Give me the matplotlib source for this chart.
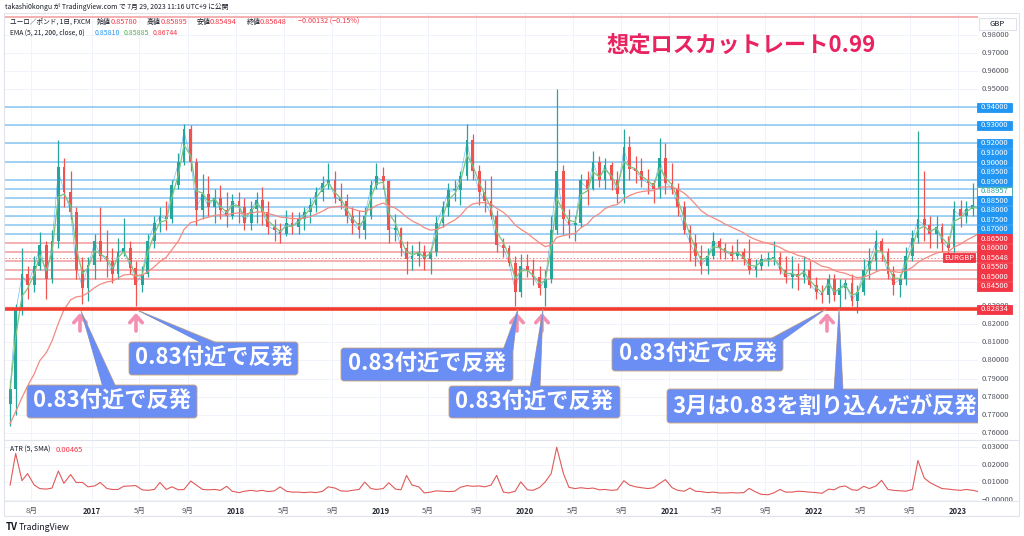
import numpy as np
import pandas as pd
import matplotlib
matplotlib.use('Agg')
import matplotlib.pyplot as plt
import matplotlib.dates as mdates
from matplotlib.patches import FancyBboxPatch, Polygon, Rectangle

plt.rcParams['font.family'] = ['Noto Sans CJK JP', 'DejaVu Sans']
plt.rcParams['axes.unicode_minus'] = False

# --- データ: ユーロ／ポンド (半月ごとの高値・安値・終値, チャートから読み取り) ---
first_open = 0.776
ema200_start = 0.763

highs = [
    0.789, 0.831, 0.862, 0.852, 0.858, 0.871, 0.866, 0.872, 0.922, 0.912, 0.905, 0.885, 0.857, 0.857,  # 2016
    0.870, 0.885, 0.872, 0.862, 0.868, 0.879, 0.866, 0.855, 0.852, 0.870, 0.880, 0.885,
    0.888, 0.900, 0.915, 0.931, 0.930, 0.912, 0.903, 0.902, 0.895, 0.897, 0.893, 0.892,  # 2017
    0.893, 0.890, 0.888, 0.893, 0.896, 0.888, 0.878, 0.876, 0.883, 0.882, 0.882, 0.885,
    0.890, 0.896, 0.902, 0.909, 0.905, 0.898, 0.892, 0.885, 0.883, 0.885, 0.900, 0.909,  # 2018
    0.907, 0.900, 0.881, 0.874, 0.866, 0.864, 0.866, 0.864, 0.862, 0.880, 0.888, 0.898,
    0.900, 0.905, 0.931, 0.925, 0.908, 0.900, 0.902, 0.883, 0.868, 0.864, 0.858, 0.859,  # 2019
    0.859, 0.856, 0.852, 0.850, 0.880, 0.950, 0.908, 0.884, 0.880, 0.903, 0.905, 0.916,
    0.913, 0.912, 0.910, 0.905, 0.928, 0.924, 0.913, 0.912, 0.906, 0.900, 0.923, 0.920,  # 2020
    0.909, 0.898, 0.888, 0.875, 0.870, 0.864, 0.862, 0.871, 0.868, 0.865, 0.864, 0.867,
    0.862, 0.867, 0.856, 0.859, 0.860, 0.866, 0.860, 0.858, 0.858, 0.854, 0.858, 0.855,  # 2021
    0.846, 0.842, 0.848, 0.848, 0.845, 0.845, 0.848, 0.842, 0.856, 0.862, 0.872, 0.868,
    0.862, 0.852, 0.848, 0.863, 0.872, 0.927, 0.905, 0.880, 0.880, 0.876, 0.869, 0.888,  # 2022
    0.889, 0.888, 0.898, 0.890,  # 2023
]
lows = [
    0.764, 0.770, 0.825, 0.834, 0.838, 0.850, 0.834, 0.843, 0.862, 0.885, 0.878, 0.845, 0.831, 0.833,
    0.845, 0.855, 0.846, 0.843, 0.845, 0.858, 0.848, 0.830, 0.838, 0.846, 0.862, 0.871,
    0.872, 0.876, 0.895, 0.908, 0.905, 0.875, 0.878, 0.880, 0.876, 0.878, 0.874, 0.878,
    0.876, 0.872, 0.872, 0.876, 0.875, 0.870, 0.866, 0.865, 0.869, 0.870, 0.870, 0.872,
    0.876, 0.882, 0.888, 0.895, 0.887, 0.884, 0.876, 0.870, 0.868, 0.867, 0.878, 0.895,
    0.895, 0.865, 0.866, 0.858, 0.848, 0.850, 0.852, 0.850, 0.848, 0.858, 0.874, 0.880,
    0.888, 0.886, 0.900, 0.900, 0.886, 0.882, 0.878, 0.860, 0.857, 0.852, 0.830, 0.835,
    0.846, 0.842, 0.836, 0.830, 0.843, 0.870, 0.870, 0.868, 0.866, 0.874, 0.886, 0.894,
    0.896, 0.895, 0.894, 0.887, 0.887, 0.900, 0.898, 0.896, 0.892, 0.887, 0.890, 0.892,
    0.892, 0.880, 0.870, 0.855, 0.852, 0.848, 0.848, 0.856, 0.856, 0.856, 0.855, 0.856,
    0.853, 0.848, 0.846, 0.850, 0.852, 0.853, 0.848, 0.843, 0.840, 0.839, 0.843, 0.840,
    0.834, 0.832, 0.832, 0.833, 0.829, 0.834, 0.830, 0.826, 0.836, 0.845, 0.850, 0.855,
    0.845, 0.836, 0.835, 0.842, 0.855, 0.865, 0.866, 0.862, 0.862, 0.860, 0.858, 0.860,
    0.874, 0.876, 0.880, 0.878,
]
closes = [
    0.784, 0.829, 0.848, 0.842, 0.852, 0.864, 0.845, 0.866, 0.907, 0.893, 0.882, 0.850, 0.840, 0.853,
    0.866, 0.858, 0.855, 0.848, 0.860, 0.862, 0.851, 0.842, 0.848, 0.866, 0.876, 0.880,
    0.878, 0.897, 0.910, 0.928, 0.910, 0.883, 0.892, 0.885, 0.890, 0.883, 0.880, 0.888,
    0.885, 0.876, 0.884, 0.889, 0.882, 0.874, 0.872, 0.870, 0.876, 0.874, 0.878, 0.882,
    0.886, 0.893, 0.898, 0.900, 0.890, 0.888, 0.880, 0.876, 0.872, 0.880, 0.897, 0.902,
    0.899, 0.872, 0.873, 0.862, 0.856, 0.858, 0.860, 0.856, 0.860, 0.876, 0.885, 0.894,
    0.894, 0.902, 0.922, 0.905, 0.893, 0.888, 0.880, 0.864, 0.862, 0.854, 0.838, 0.852,
    0.850, 0.846, 0.840, 0.845, 0.872, 0.905, 0.878, 0.875, 0.876, 0.900, 0.895, 0.910,
    0.900, 0.908, 0.900, 0.892, 0.918, 0.906, 0.905, 0.900, 0.898, 0.895, 0.912, 0.898,
    0.895, 0.885, 0.872, 0.865, 0.858, 0.852, 0.858, 0.866, 0.862, 0.860, 0.858, 0.860,
    0.856, 0.850, 0.852, 0.856, 0.856, 0.857, 0.850, 0.846, 0.848, 0.846, 0.850, 0.842,
    0.838, 0.836, 0.845, 0.836, 0.840, 0.843, 0.833, 0.838, 0.850, 0.855, 0.866, 0.860,
    0.848, 0.842, 0.845, 0.858, 0.868, 0.878, 0.875, 0.870, 0.874, 0.865, 0.862, 0.884,
    0.880, 0.884, 0.886, 0.884,
]
atr_values = [
    0.0085, 0.0265, 0.0110, 0.0150, 0.0085, 0.0065, 0.0062, 0.0068, 0.0165, 0.0095, 0.0145, 0.0100, 0.0100, 0.0075,
    0.0080, 0.0100, 0.0065, 0.0060, 0.0060, 0.0078, 0.0080, 0.0082, 0.0058, 0.0055, 0.0060, 0.0100,
    0.0060, 0.0075, 0.0058, 0.0060, 0.0108, 0.0085, 0.0060, 0.0058, 0.0060, 0.0055, 0.0078, 0.0050,
    0.0042, 0.0050, 0.0055, 0.0050, 0.0055, 0.0048, 0.0052, 0.0075, 0.0050, 0.0045, 0.0045, 0.0042,
    0.0045, 0.0042, 0.0050, 0.0075, 0.0068, 0.0052, 0.0050, 0.0055, 0.0060, 0.0102, 0.0065, 0.0060,
    0.0065, 0.0098, 0.0062, 0.0058, 0.0140, 0.0085, 0.0075, 0.0040, 0.0045, 0.0052, 0.0050, 0.0048,
    0.0050, 0.0072, 0.0082, 0.0078, 0.0080, 0.0075, 0.0085, 0.0140, 0.0045, 0.0040, 0.0050, 0.0103,
    0.0058, 0.0055, 0.0072, 0.0103, 0.0150, 0.0300, 0.0150, 0.0072, 0.0065, 0.0070, 0.0065, 0.0068,
    0.0058, 0.0060, 0.0055, 0.0058, 0.0110, 0.0085, 0.0075, 0.0070, 0.0065, 0.0070, 0.0095, 0.0116,
    0.0070, 0.0055, 0.0050, 0.0068, 0.0050, 0.0048, 0.0042, 0.0045, 0.0040, 0.0040, 0.0042, 0.0040,
    0.0042, 0.0066, 0.0045, 0.0032, 0.0030, 0.0040, 0.0060, 0.0045, 0.0045, 0.0050, 0.0048, 0.0045,
    0.0042, 0.0038, 0.0062, 0.0058, 0.0075, 0.0080, 0.0058, 0.0055, 0.0078, 0.0065, 0.0080, 0.0112,
    0.0060, 0.0055, 0.0052, 0.0050, 0.0060, 0.0225, 0.0125, 0.0100, 0.0080, 0.0065, 0.0062, 0.0058,
    0.0055, 0.0060, 0.0055, 0.0048,
]

blue_levels = [0.94, 0.93, 0.92, 0.91, 0.90, 0.895, 0.89, 0.885, 0.88, 0.875, 0.87]
red_levels = [0.865, 0.86, 0.855, 0.85, 0.845]
support_level = 0.82834
stop_level = 0.99
last_close = 0.85648
mark_level = 0.88957
price_ticks = [0.98, 0.97, 0.96, 0.95, 0.83, 0.82, 0.81, 0.80, 0.79, 0.78, 0.77, 0.76]
atr_ticks = [0.03, 0.02, 0.01, 0.0]

tick_dates = ['2016-08-01',
              '2017-01-01', '2017-05-01', '2017-09-01',
              '2018-01-01', '2018-05-01', '2018-09-01',
              '2019-01-01', '2019-05-01', '2019-09-01',
              '2020-01-01', '2020-05-01', '2020-09-01',
              '2021-01-01', '2021-05-01', '2021-09-01',
              '2022-01-01', '2022-05-01', '2022-09-01',
              '2023-01-01']
tick_labels = ['8月', '2017', '5月', '9月', '2018', '5月', '9月', '2019', '5月', '9月',
               '2020', '5月', '9月', '2021', '5月', '9月', '2022', '5月', '9月', '2023']

# --- 色 ---
UP, DOWN = '#26a69a', '#ef5350'
BLUE_LINE, RED_LINE = '#86c5f2', '#f29b9b'
BLUE_TAG, RED_TAG = '#2196f3', '#f23645'
CALL = '#6b8ef5'
GREY = '#50535e'
INK = '#131722'
BORDER = '#e0e3eb'

W, H = 1024, 536
fig = plt.figure(figsize=(W / 100, H / 100), dpi=100)
fig.patch.set_facecolor('white')


def box(x0, y0, x1, y1):
    return [x0 / W, 1 - y1 / H, (x1 - x0) / W, (y1 - y0) / H]


ax = fig.add_axes(box(5, 13, 978, 440))
ax_atr = fig.add_axes(box(5, 440, 978, 501), sharex=ax)

starts = pd.date_range('2016-06-01', periods=len(closes), freq='SMS')
xs = mdates.date2num(starts + pd.Timedelta(days=7))
o = np.array([first_open] + closes[:-1])
c = np.array(closes)
hi = np.array(highs)
lo = np.array(lows)
cols = np.where(c >= o, UP, DOWN)

# ローソク足
ax.vlines(xs, lo, hi, colors=cols, lw=0.9, zorder=4)
ax.bar(xs, np.maximum(np.abs(c - o), 0.0006), bottom=np.minimum(o, c), width=7,
       color=cols, zorder=5)

# EMA (半月足なので期間を換算)
ema5 = pd.Series(closes).ewm(alpha=0.95, adjust=False).mean()
ema21 = pd.Series(closes).ewm(span=2.1, adjust=False).mean()
ema200 = pd.Series([ema200_start] + closes).ewm(span=18.6, adjust=False).mean().iloc[1:]
ax.plot(xs, ema5, color='#2196f3', lw=0.5, alpha=0.6, zorder=3)
ax.plot(xs, ema21, color='#7cc47f', lw=0.9, zorder=6)
ax.plot(xs, ema200.values, color='#f28b82', lw=0.9, zorder=6)

# 水平線
ax.axhline(stop_level, color='#f5a3a3', lw=1.2, zorder=2)
for lv in blue_levels:
    ax.axhline(lv, color=BLUE_LINE, lw=1.1, zorder=2)
for lv in red_levels:
    ax.axhline(lv, color=RED_LINE, lw=1.1, zorder=2)
ax.axhline(last_close, color='#f28b8b', lw=0.7, ls=(0, (1.5, 2)), zorder=2)
ax.axhline(support_level, color='#f23c2f', lw=2.6, zorder=7)

ax.set_xlim(pd.Timestamp('2016-05-26'), pd.Timestamp('2023-02-21'))
ax.set_ylim(0.756, 0.99217)
ax.set_yticks(np.arange(0.76, 0.985, 0.01))
ax.set_xticks(mdates.date2num(pd.to_datetime(tick_dates)))
ax.grid(True, color='#f0f3fa', lw=0.7, zorder=0)
ax.tick_params(length=0, labelleft=False, labelbottom=False)
for s in ax.spines.values():
    s.set_visible(False)

# ATR
ax_atr.plot(xs, atr_values, color='#e05a5a', lw=0.8)
ax_atr.set_ylim(-0.00057, 0.03415)
ax_atr.set_yticks(atr_ticks)
ax_atr.grid(True, color='#f0f3fa', lw=0.7)
ax_atr.tick_params(length=0, labelleft=False, pad=4)
ax_atr.set_xticks(mdates.date2num(pd.to_datetime(tick_dates)))
ax_atr.set_xticklabels(tick_labels, fontsize=5.5, color=GREY)
for t in ax_atr.get_xticklabels():
    if t.get_text().isdigit():
        t.set_fontweight('bold')
        t.set_color('#2a2e39')
for s in ax_atr.spines.values():
    s.set_visible(False)


def py(axis, v):
    return H - axis.transData.transform((0, v))[1]


# --- 全体オーバーレイ (ピクセル座標) ---
ov = fig.add_axes([0, 0, 1, 1])
ov.set_xlim(0, W)
ov.set_ylim(H, 0)
ov.axis('off')

ov.add_patch(Rectangle((4, 13), 1015, 503, fc='none', ec=BORDER, lw=0.8))
ov.plot([4, 1019], [440, 440], color=BORDER, lw=0.8)
ov.plot([4, 1019], [501, 501], color=BORDER, lw=0.6)

ov.text(5, 7, 'takashi0kongu が TradingView.com で 7月 29, 2023 11:16 UTC+9 に公開',
        fontsize=4.9, color=INK, va='center')
hdr = [(10, 'ユーロ／ポンド, 1日, FXCM', INK, 4.8), (97, '始値', INK, 5.0),
       (111, '0.85780', RED_TAG, 5.3), (147, '高値', INK, 5.0), (161, '0.85895', RED_TAG, 5.3),
       (197, '安値', INK, 5.0), (210, '0.85494', RED_TAG, 5.3), (247, '終値', INK, 5.0),
       (260, '0.85648', RED_TAG, 5.3), (298, '−0.00132 (−0.15%)', RED_TAG, 5.2)]
for x, s, col, fs in hdr:
    ov.text(x, 22, s, fontsize=fs, color=col, va='center')
for x, s, col, fs in [(10, 'EMA (5, 21, 200, close, 0)', INK, 4.8),
                      (95, '0.85810', '#2196f3', 5.0), (124, '0.85885', '#4caf50', 5.0),
                      (153, '0.86744', RED_TAG, 5.0)]:
    ov.text(x, 33, s, fontsize=fs, color=col, va='center')
ov.text(10, 450, 'ATR (5, SMA)', fontsize=5.0, color=INK, va='center')
ov.text(56, 450, '0.00465', fontsize=5.4, color=RED_TAG, va='center')
ov.text(6, 527, 'TV', fontsize=7, fontweight='bold', color=INK, va='center')
ov.text(19, 527, 'TradingView', fontsize=6.3, color=INK, va='center')

ov.add_patch(Rectangle((979, 18), 37, 12, fc='white', ec=BORDER, lw=0.8))
ov.text(997, 24, 'GBP', fontsize=5.5, color=INK, ha='center', va='center')

for p in price_ticks:
    ov.text(982, py(ax, p), f'{p:.5f}', fontsize=5.5, color=GREY, va='center')


def tag(y, text, fc, tc='white', ec=None, x0=977, w=35):
    ov.add_patch(Rectangle((x0, y - 4.5), w, 9, fc=fc, ec=ec or fc, lw=0.6, zorder=5))
    ov.text(x0 + w / 2, y, text, fontsize=5.5, color=tc, ha='center', va='center', zorder=6)


for lv in blue_levels[:2]:
    tag(py(ax, lv), f'{lv:.5f}', BLUE_TAG)
tag(py(ax, support_level), f'{support_level:.5f}', RED_TAG)

cluster = sorted(blue_levels[2:] + red_levels + [mark_level, last_close], reverse=True)
y_top = py(ax, cluster[0])
for i, lv in enumerate(cluster):
    y = y_top + i * 9.53
    if lv == mark_level:
        tag(y, f'{lv:.5f}', 'white', tc=UP, ec=UP)
    elif lv == last_close:
        tag(y, f'{lv:.5f}', RED_TAG)
        tag(y, 'EURGBP', RED_TAG, x0=943, w=32)
    elif lv in red_levels:
        tag(y, f'{lv:.5f}', RED_TAG)
    else:
        tag(y, f'{lv:.5f}', BLUE_TAG)

ax_r = fig.add_axes(box(978, 440, 1019, 501))
ax_r.set_ylim(ax_atr.get_ylim())
ax_r.set_xlim(0, 1)
ax_r.axis('off')
for v in atr_ticks:
    ax_r.text(0.1, v, f'{v:.5f}' if v > 0 else '−0.00000', fontsize=5.5, color=GREY,
              va='center', clip_on=True)

# --- 注釈 (価格パネル内, ピクセル座標) ---
an = fig.add_axes(box(5, 13, 978, 440))
an.set_xlim(5, 978)
an.set_ylim(440, 13)
an.axis('off')

an.text(607, 45, '想定ロスカットレート0.99', fontsize=16, fontweight='bold',
        color='#e8235f', va='center')

for x in [80, 136, 517, 542, 827]:
    an.annotate('', xy=(x, 313), xytext=(x, 331),
                arrowprops=dict(arrowstyle='->,head_length=0.5,head_width=0.45',
                                color='#f48fb1', lw=2.6, mutation_scale=10,
                                shrinkA=0, shrinkB=0))

callouts = [
    ('0.83付近で反発', (27, 385, 197, 418), (81, 311), (103, 116), 'center'),
    ('0.83付近で反発', (129, 342, 298, 375), (137, 310), (205, 220), 'center'),
    ('0.83付近で反発', (341, 348, 513, 381), (518, 309), (503, 513), 'center'),
    ('0.83付近で反発', (449, 386, 620, 418), (543, 309), (530, 540), 'center'),
    ('0.83付近で反発', (612, 338, 783, 371), (826, 309), (768, 782), 'center'),
    ('3月は0.83を割り込んだが反発', (667, 389, 995, 423), (839, 309), (834, 843), 'left'),
]
for text, (x0, y0, x1, y1), tip, (b1, b2), ha in callouts:
    an.add_patch(Polygon([tip, (b1, y0 + 2), (b2, y0 + 2)], closed=True, fc=CALL,
                         ec='#c9a27a', lw=0.6, zorder=3))
    an.add_patch(FancyBboxPatch((x0, y0), x1 - x0, y1 - y0,
                                boxstyle='round,pad=0,rounding_size=3',
                                fc=CALL, ec='#c9a27a', lw=0.6, zorder=4))
    an.add_patch(Polygon([tip, (b1, y0 + 3), (b2, y0 + 3)], closed=True, fc=CALL,
                         ec='none', zorder=5))
    tx = (x0 + x1) / 2 if ha == 'center' else x0 + 5
    an.text(tx, (y0 + y1) / 2, text, fontsize=16, fontweight='bold', color='white',
            ha=ha, va='center', zorder=6, clip_on=True)

fig.savefig('out.png', dpi=100)
